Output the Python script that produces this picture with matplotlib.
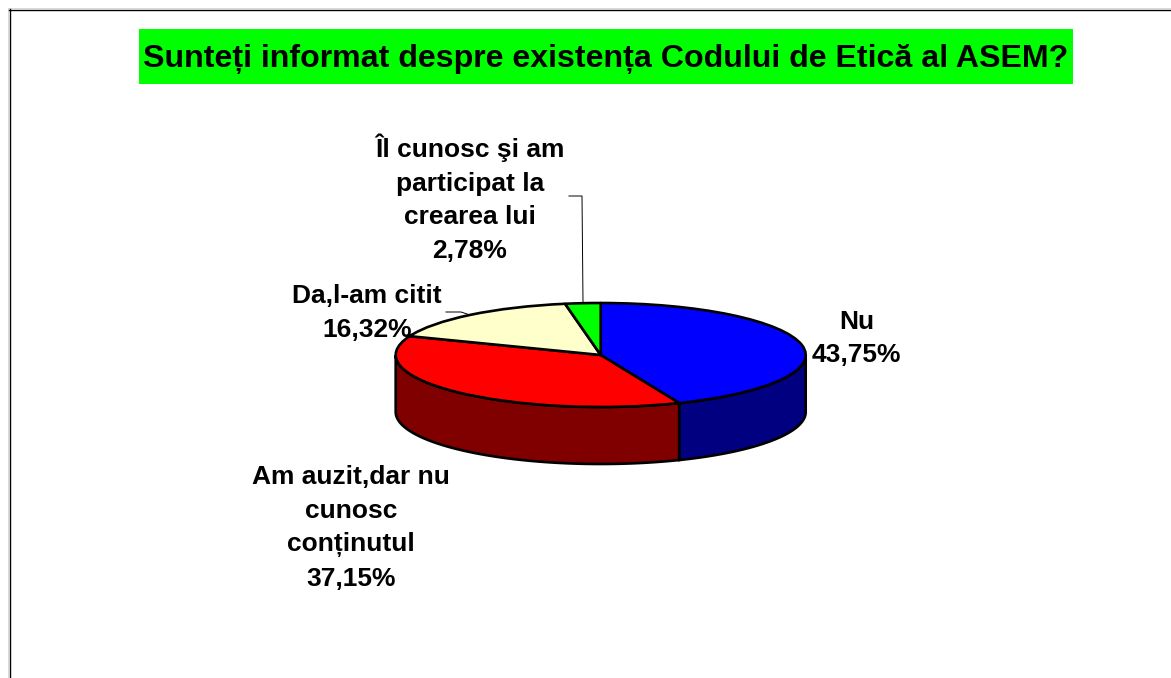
import numpy as np
import matplotlib
matplotlib.use("Agg")
import matplotlib.pyplot as plt
from matplotlib.patches import Rectangle, Polygon
from matplotlib.transforms import Affine2D

title = "Sunteți informat despre existența Codului de Etică al ASEM?"
categories = ["Nu", "Am auzit,dar nu\ncunosc\nconținutul", "Da,l-am citit", "Îl cunosc şi am\nparticipat la\ncrearea lui"]
values = [43.75, 37.15, 16.32, 2.78]
value_labels = ["43,75%", "37,15%", "16,32%", "2,78%"]
top_colors = ["#0000FF", "#FF0000", "#FFFFCC", "#00FF00"]
side_colors = ["#000080", "#800000", "#808066", "#008000"]

W, H = 1171, 678
cx, cy, rx, ry, depth = 600.7, 355.0, 205.0, 52.0, 57.0

plt.rcParams['font.family'] = ['Liberation Sans', 'DejaVu Sans']
fig = plt.figure(figsize=(W/100, H/100), dpi=100, facecolor='white')
px = Affine2D().scale(1, -1).translate(0, H)

ax = fig.add_axes([0, 0, 1, 1])
ax.pie(values, colors=top_colors, startangle=90, counterclock=False,
       wedgeprops=dict(edgecolor='black', linewidth=1.9, zorder=5, joinstyle='round'))
ax.set_aspect('auto')
ax.set_xlim((0-cx)/rx, (W-cx)/rx)
ax.set_ylim((cy-H)/ry, (cy-0)/ry)
ax.axis('off')

# side wall of the pie, front half only
d = depth/ry
edges = np.cumsum([0] + values) / 100 * 360
for i, col in enumerate(side_colors):
    a0, a1 = max(edges[i], 90), min(edges[i+1], 270)
    if a1 <= a0:
        continue
    t = np.radians(np.linspace(a0, a1, 80))
    x, y = np.sin(t), np.cos(t)
    pts = np.r_[np.c_[x, y], np.c_[x[::-1], y[::-1]-d]]
    ax.add_patch(Polygon(pts, closed=True, facecolor=col, edgecolor='black', linewidth=1.9, zorder=3))

# frame
for xs, ys, c, lw in [([8, 8], [8, H], '#d8d8d8', 0.7), ([8, W], [8, 8], '#d8d8d8', 0.7),
                      ([9.5, 9.5], [9, H], 'black', 1.0), ([9, W], [9.5, 9.5], 'black', 1.0)]:
    fig.add_artist(plt.Line2D(xs, ys, color=c, lw=lw, transform=px))

# title band
fig.add_artist(Rectangle((139, 29), 934, 55, facecolor='#00FF00', edgecolor='none', transform=px))
fig.text(606, 59, title, transform=px, ha='center', va='center', fontsize=23.1, fontweight='bold', color='black')

# leaders
fig.add_artist(plt.Line2D([569, 582, 583], [196, 196, 302], color='black', lw=0.7, transform=px))
fig.add_artist(plt.Line2D([446, 461, 470], [312, 312, 315], color='black', lw=0.7, transform=px))

# labels
lab_pos = [(856.5, 338.5), (351, 528), (367, 313), (470, 198)]
for (x, y), c, v in zip(lab_pos, categories, value_labels):
    fig.text(x, y, c + "\n" + v, transform=px, ha='center', va='center', ma='center',
             fontsize=19, fontweight='bold', color='black', linespacing=1.5, zorder=10)

fig.savefig("out.png", dpi=100)
